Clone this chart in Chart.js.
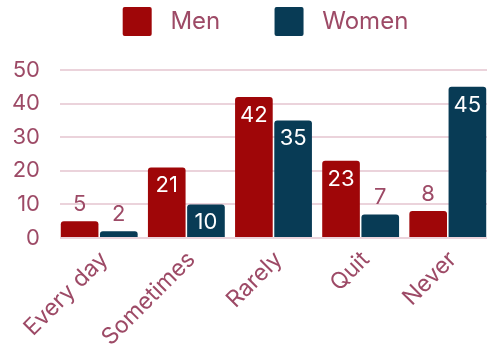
<!DOCTYPE html>
<html>
<head>
<meta charset="utf-8">
<script src="https://cdn.jsdelivr.net/npm/chart.js@4.4.1/dist/chart.umd.min.js"></script>
<style>
  html, body { margin: 0; padding: 0; background: #fff; }
  #wrap { width: 487px; height: 362px; }
</style>
</head>
<body>
<div id="wrap"><canvas id="chart"></canvas></div>
<script>
const categories = ['Every day', 'Sometimes', 'Rarely', 'Quit', 'Never'];
const menValues = [5, 21, 42, 23, 8];
const womenValues = [2, 10, 35, 7, 45];
const yMin = 0;
const yMax = 50;
const yStep = 10;

const textColor = '#9d4a66';
const gridColor = '#ebd3db';
const menColor = '#9f0608';
const womenColor = '#083b55';
const fontFamily = 'Inter, "Open Sans", sans-serif';

// value on each bar: white inside the tall ones, mauve above the short ones
const barValueLabels = {
    id: 'barValueLabels',
    afterDatasetsDraw(chart) {
        const ctx = chart.ctx;
        ctx.save();
        ctx.font = `22px ${fontFamily}`;
        ctx.textAlign = 'center';
        ctx.textBaseline = 'alphabetic';
        chart.data.datasets.forEach((ds, i) => {
            chart.getDatasetMeta(i).data.forEach((bar, j) => {
                const value = ds.data[j].y;
                if (bar.base - bar.y > 30) {
                    ctx.fillStyle = '#ffffff';
                    ctx.fillText(value, bar.x, bar.y + 25);
                } else {
                    ctx.fillStyle = textColor;
                    ctx.fillText(value, bar.x, bar.y - 10);
                }
            });
        });
        ctx.restore();
    }
};

// legend: extra room below it, and centred over the plot instead of the canvas
const legendSpacing = {
    id: 'legendSpacing',
    beforeInit(chart) {
        const fit = chart.legend.fit;
        chart.legend.fit = function () {
            fit.bind(chart.legend)();
            this.height += 24;
        };
    },
    afterLayout(chart) {
        chart.legend.left += 22;
        chart.legend.right += 22;
    }
};

const toPoints = (values) => values.map((v, i) => ({x: i, y: v}));

new Chart(document.getElementById('chart'), {
    type: 'bar',
    data: {
        datasets: [
            {
                label: 'Men',
                data: toPoints(menValues),
                backgroundColor: menColor,
                borderRadius: 3,
                categoryPercentage: 0.9,
                barPercentage: 0.96,
            },
            {
                label: 'Women',
                data: toPoints(womenValues),
                backgroundColor: womenColor,
                borderRadius: 3,
                categoryPercentage: 0.9,
                barPercentage: 0.96,
            },
        ],
    },
    options: {
        responsive: true,
        maintainAspectRatio: false,
        animation: false,
        scales: {
            x: {
                type: 'linear',
                min: -0.45,
                max: 4.45,
                offset: false,
                afterBuildTicks: (scale) => {
                    scale.ticks = categories.map((c, i) => ({value: i}));
                },
                afterFit: (scale) => {
                    scale.height = 124;
                    scale.paddingLeft = 0;
                    scale.paddingRight = 0;
                },
                grid: {display: false},
                border: {display: false},
                ticks: {
                    callback: (value) => categories[value],
                    color: textColor,
                    font: {family: fontFamily, size: 23},
                    minRotation: 45,
                    maxRotation: 45,
                    padding: 0,
                    labelOffset: 5,
                },
            },
            y: {
                min: yMin,
                max: yMax,
                afterFit: (scale) => {
                    scale.width = 60;
                },
                border: {display: false},
                grid: {
                    color: gridColor,
                    lineWidth: 2,
                    drawTicks: false,
                },
                ticks: {
                    stepSize: yStep,
                    padding: 20,
                    color: textColor,
                    font: {family: fontFamily, size: 22},
                },
            },
        },
        plugins: {
            legend: {
                position: 'top',
                labels: {
                    boxWidth: 29,
                    boxHeight: 29,
                    useBorderRadius: true,
                    borderRadius: 2,
                    padding: 7,
                    color: textColor,
                    font: {family: fontFamily, size: 24},
                    generateLabels: (chart) => {
                        const items = Chart.defaults.plugins.legend.labels.generateLabels(chart);
                        items[0].text = ' Men       ';
                        items[1].text = ' Women';
                        return items;
                    },
                },
            },
            tooltip: {enabled: false},
        },
    },
    plugins: [barValueLabels, legendSpacing],
});
</script>
</body>
</html>
